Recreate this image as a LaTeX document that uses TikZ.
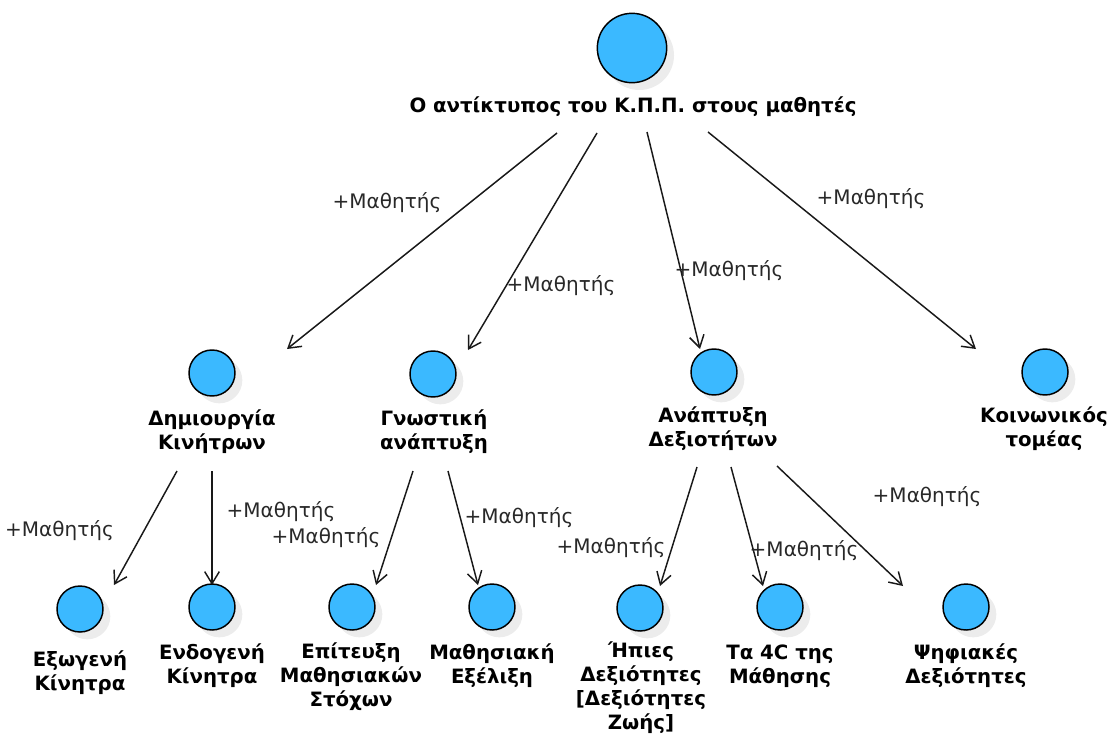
\documentclass[tikz,border=0pt]{standalone}
\usepackage{fontspec}
\setmainfont{DejaVu Sans}
\usetikzlibrary{arrows.meta,shadows}
\definecolor{actorfill}{RGB}{59,185,255}
\definecolor{shadowgrey}{RGB}{236,236,236}
\definecolor{labelgrey}{RGB}{40,40,40}

\tikzset{
  actor/.style={circle, draw=black, line width=1.1pt, fill=actorfill,
    minimum size=#1, inner sep=0pt,
    general shadow={shadow xshift=5.5pt, shadow yshift=-5.5pt, fill=shadowgrey, draw=none}},
  actor/.default=34.5pt,
  actorname/.style={font=\bfseries\fontsize{14.8}{18}\selectfont, align=center, inner sep=0pt},
  role/.style={font=\fontsize{15}{18}\selectfont, text=labelgrey, inner sep=0pt},
  assoc/.style={draw=black!90, line width=1.1pt,
    -{Straight Barb[length=9pt, width=11pt, line width=1.1pt]}},
}

\begin{document}
\begin{tikzpicture}[x=0.75pt, y=-0.75pt]
\useasboundingbox (0,0) rectangle (1116,736);

% actors and their names
\node[actor=52pt] (root) at (632,48) {};
\node[actorname] (rootname) at (633,107) {Ο αντίκτυπος του Κ.Π.Π. στους μαθητές};

\node[actor] (dim) at (212,373) {};
\node[actorname] (dimname) at (212,432) {Δημιουργία\\Κινήτρων};
\node[actor] (gno) at (433,374) {};
\node[actorname] (gnoname) at (434,432) {Γνωστική\\ανάπτυξη};
\node[actor] (ana) at (714,372) {};
\node[actorname] (ananame) at (713,429) {Ανάπτυξη\\Δεξιοτήτων};
\node[actor] (koi) at (1045,372) {};
\node[actorname] (koiname) at (1044,429) {Κοινωνικός\\τομέας};

\node[actor] (exo) at (80,609) {};
\node[actorname] (exoname) at (80,673) {Εξωγενή\\Κίνητρα};
\node[actor] (endo) at (212,607) {};
\node[actorname] (endoname) at (212,666) {Ενδογενή\\Κίνητρα};
\node[actor] (epi) at (352,607) {};
\node[actorname] (epiname) at (351,677) {Επίτευξη\\Μαθησιακών\\Στόχων};
\node[actor] (mat) at (492,607) {};
\node[actorname] (matname) at (492,666) {Μαθησιακή\\Εξέλιξη};
\node[actor] (ipi) at (640,608) {};
\node[actorname] (ipiname) at (641,688) {Ήπιες\\Δεξιότητες\\{[Δεξιότητες}\\Ζωής]};
\node[actor] (fourc) at (780,607) {};
\node[actorname] (fourcname) at (780,666) {Τα 4C της\\Μάθησης};
\node[actor] (psi) at (966,607) {};
\node[actorname] (psiname) at (966,666) {Ψηφιακές\\Δεξιότητες};

% connector end points
\coordinate (r1) at (557,133); \coordinate (d1) at (287,349);
\coordinate (r2) at (597,133); \coordinate (d2) at (468,350);
\coordinate (r3) at (647,132); \coordinate (d3) at (700,349);
\coordinate (r4) at (708,132); \coordinate (d4) at (976,349);
\coordinate (m1) at (177,471); \coordinate (e1) at (114,585);
\coordinate (m2) at (212,471); \coordinate (e2) at (212,585);
\coordinate (g1) at (413,471); \coordinate (e3) at (376,585);
\coordinate (g2) at (448,471); \coordinate (e4) at (478,585);
\coordinate (a1) at (697,467); \coordinate (e5) at (660,586);
\coordinate (a2) at (731,467); \coordinate (e6) at (763,586);
\coordinate (a3) at (777,466); \coordinate (e7) at (903,586);

% associations
\draw[assoc] (r1) -- (d1);
\draw[assoc] (r2) -- (d2);
\draw[assoc] (r3) -- (d3);
\draw[assoc] (r4) -- (d4);
\draw[assoc] (m1) -- (e1);
\draw[assoc] (m2) -- (e2);
\draw[assoc] (g1) -- (e3);
\draw[assoc] (g2) -- (e4);
\draw[assoc] (a1) -- (e5);
\draw[assoc] (a2) -- (e6);
\draw[assoc] (a3) -- (e7);

% role names
\node[role] (role1) at (387,203) {+Μαθητής};
\node[role] (role2) at (561,286) {+Μαθητής};
\node[role] (role3) at (729,271) {+Μαθητής};
\node[role] (role4) at (871,199) {+Μαθητής};
\node[role, anchor=east] (role5) at (114,531) {+Μαθητής};
\node[role] (role6) at (281,512) {+Μαθητής};
\node[role] (role7) at (326,538) {+Μαθητής};
\node[role] (role8) at (519,518) {+Μαθητής};
\node[role] (role9) at (611,548) {+Μαθητής};
\node[role] (role10) at (804,551) {+Μαθητής};
\node[role] (role11) at (927,497) {+Μαθητής};
\end{tikzpicture}
\end{document}
